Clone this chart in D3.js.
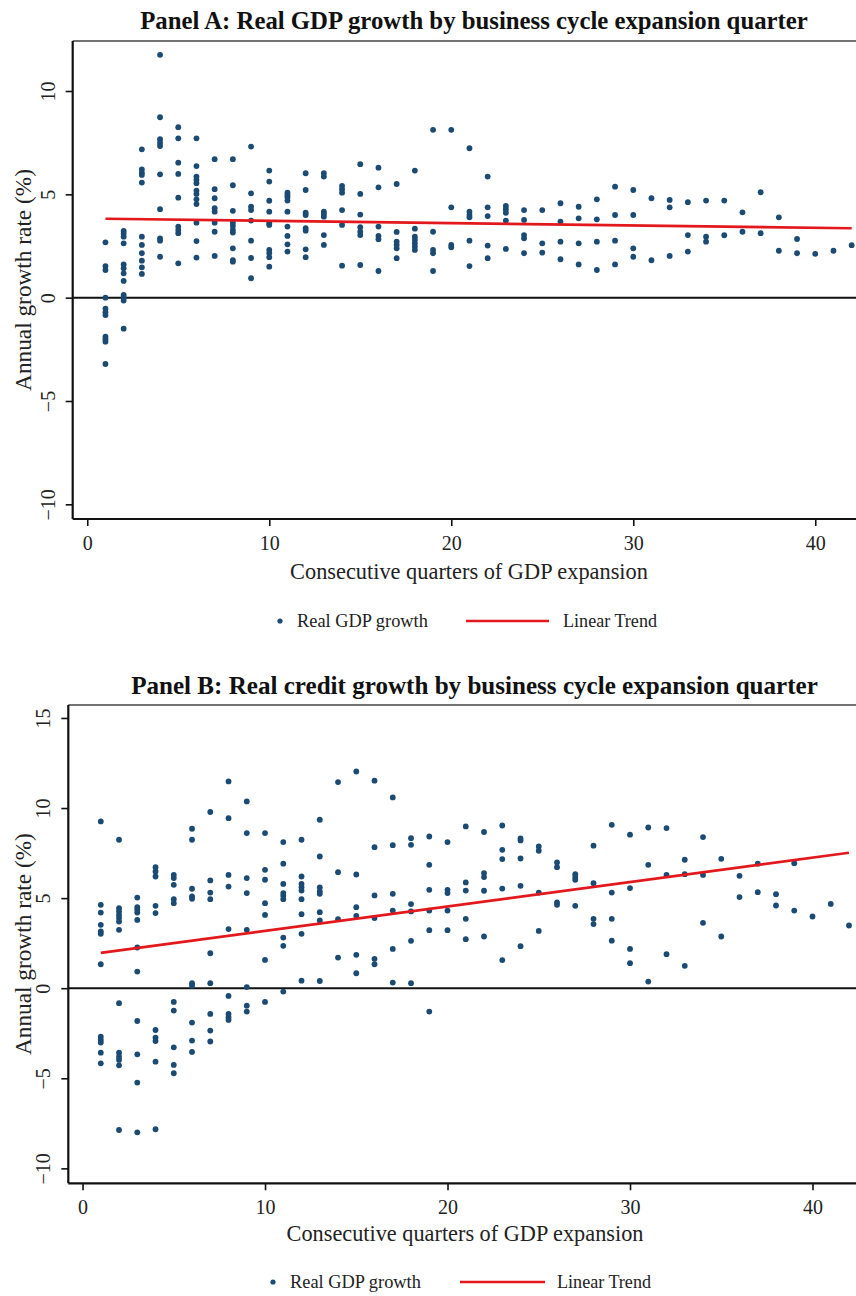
<!DOCTYPE html>
<html><head><meta charset="utf-8">
<script src="https://cdn.jsdelivr.net/npm/d3@7/dist/d3.min.js"></script>
<style>body{margin:0;background:#fff;} svg{display:block;}</style>
</head><body>
<svg id="chart" width="856" height="1296"></svg>
<script>
// ---------------- DATA ----------------
const xTicks = [0, 10, 20, 30, 40];
const yTicksA = [-10, -5, 0, 5, 10];
const yTicksB = [-10, -5, 0, 5, 10, 15];

// Panel A: real GDP growth, one list of values per expansion quarter (1..42)
const gdpGrowth = [
  [2.68, 1.53, 1.34, 0, -0.53, -0.7, -0.84, -1.89, -2.01, -2.13, -3.21],
  [3.23, 3.1, 2.95, 2.63, 1.61, 1.42, 1.18, 0.81, 0.13, 0, -0.14, -1.5],
  [7.18, 6.21, 6.05, 5.94, 5.57, 2.95, 2.55, 2.15, 1.79, 1.47, 1.15],
  [11.75, 8.73, 7.67, 7.5, 7.34, 5.97, 4.28, 2.87, 2.76, 1.98],
  [8.25, 7.71, 6.53, 5.99, 4.84, 3.44, 3.28, 3.12, 1.66],
  [7.71, 6.37, 5.86, 5.7, 5.54, 5.18, 5.02, 4.76, 4.53, 3.63, 2.74, 1.94],
  [6.7, 5.25, 4.81, 4.33, 4.16, 3.63, 3.19, 2.02],
  [6.7, 5.44, 4.2, 3.63, 3.47, 3.28, 3.15, 2.39, 1.82, 1.74],
  [7.31, 5.05, 4.4, 4.24, 3.73, 2.76, 1.92, 0.94],
  [6.15, 5.62, 4.69, 4.16, 3.6, 3.52, 2.31, 2.15, 1.96, 1.5],
  [5.08, 4.97, 4.86, 4.7, 4.16, 3.44, 2.99, 2.58, 2.23],
  [6.02, 5.21, 4.11, 4.0, 3.36, 3.24, 2.34, 1.96],
  [6.02, 5.86, 4.16, 4.05, 3.92, 3.03, 2.55],
  [5.41, 5.25, 5.08, 4.24, 3.52, 1.55],
  [6.46, 5.02, 4.02, 3.41, 3.19, 3.03, 1.58],
  [6.29, 5.34, 3.44, 2.99, 2.83, 1.29],
  [5.5, 3.18, 2.71, 2.55, 2.39, 1.91],
  [6.15, 3.34, 2.95, 2.79, 2.63, 2.47, 2.31],
  [8.12, 3.19, 2.31, 2.15, 1.29],
  [8.12, 4.37, 2.55, 2.44],
  [7.23, 4.16, 4.0, 3.89, 2.76, 1.53],
  [5.86, 4.37, 3.95, 2.52, 1.91],
  [4.44, 4.28, 4.11, 3.73, 2.36],
  [4.24, 3.76, 3.03, 2.87, 2.15],
  [4.24, 2.63, 2.18],
  [4.57, 3.68, 2.71, 1.86],
  [4.4, 3.84, 2.63, 1.61],
  [4.76, 3.79, 2.71, 1.34],
  [5.37, 4.0, 2.76, 1.61],
  [5.21, 4.0, 2.39, 1.98],
  [4.81, 1.81],
  [4.73, 4.37, 2.02],
  [4.62, 3.03, 2.23],
  [4.7, 2.95, 2.71],
  [4.7, 3.02],
  [4.13, 3.19],
  [5.1, 3.12],
  [3.89, 2.27],
  [2.84, 2.15],
  [2.12],
  [2.27],
  [2.54]
];

// Panel B: real credit growth, one list of values per expansion quarter (1..42)
const creditGrowth = [
  [9.26, 4.63, 4.2, 3.52, 3.15, 3.02, 1.33, -2.69, -2.87, -3.02, -3.58, -4.17],
  [8.24, 4.44, 4.26, 4.07, 3.89, 3.7, 3.24, -0.83, -3.58, -3.8, -3.98, -4.28, -7.87],
  [5.03, 4.5, 4.35, 4.2, 3.79, 2.26, 0.92, -1.82, -3.67, -5.24, -8.0],
  [6.72, 6.48, 6.2, 4.57, 4.17, -2.32, -2.74, -2.93, -4.08, -7.83],
  [6.29, 6.11, 5.74, 4.94, 4.72, -0.76, -1.24, -3.28, -4.26, -4.72],
  [8.85, 8.24, 5.52, 5.09, 4.96, 0.28, 0.13, -1.91, -2.91, -3.54],
  [9.78, 5.98, 5.31, 4.94, 1.94, 0.28, -1.43, -2.35, -2.96],
  [11.48, 9.44, 6.29, 5.64, 3.28, -0.43, -1.43, -1.61, -1.76],
  [10.37, 8.61, 6.11, 5.28, 3.24, 0.06, -0.97, -1.3],
  [8.61, 6.57, 6.02, 4.72, 4.07, 1.57, -0.76],
  [8.11, 6.91, 5.79, 5.28, 5.13, 4.94, 2.81, 2.35, -0.19],
  [8.24, 6.2, 5.79, 5.61, 5.42, 4.94, 4.11, 3.02, 0.42],
  [9.35, 7.31, 5.59, 5.37, 5.24, 4.22, 3.76, 0.4],
  [11.44, 6.44, 3.83, 1.7],
  [12.03, 6.31, 4.5, 4.02, 1.85, 0.83],
  [11.52, 7.83, 5.15, 3.89, 1.63, 1.33],
  [10.59, 7.94, 5.24, 4.31, 2.18, 0.31],
  [8.33, 7.96, 4.67, 4.26, 2.63, 0.28],
  [8.42, 6.85, 5.46, 4.31, 3.22, -1.3],
  [8.11, 5.46, 5.28, 4.31, 3.22],
  [8.98, 5.87, 5.42, 3.85, 2.72],
  [8.67, 6.39, 6.17, 5.41, 2.87],
  [9.03, 7.68, 7.17, 5.53, 1.56],
  [8.31, 8.2, 7.2, 5.68, 2.33],
  [7.87, 7.63, 5.31, 3.18],
  [6.98, 6.72, 4.76, 4.63],
  [6.33, 6.17, 6.02, 4.57],
  [7.91, 5.83, 3.85, 3.56],
  [9.07, 5.31, 3.85, 2.64],
  [8.52, 5.56, 2.18, 1.39],
  [8.92, 6.85, 0.37],
  [8.89, 6.29, 1.89],
  [7.13, 6.33, 1.24],
  [8.39, 6.29, 3.63],
  [7.18, 2.87],
  [6.24, 5.06],
  [6.91, 5.33],
  [5.22, 4.59],
  [6.94, 4.31],
  [3.98],
  [4.68],
  [3.48]
];

// Linear trend end points [quarter, value]
const gdpTrend = [[1, 3.82], [42, 3.36]];
const creditTrend = [[1, 1.96], [42, 7.52]];

const panelTitles = [
  "Panel A: Real GDP growth by business cycle expansion quarter",
  "Panel B: Real credit growth by business cycle expansion quarter"
];
const xLabel = "Consecutive quarters of GDP expansion";
const yLabel = "Annual growth rate (%)";
const legendLabels = ["Real GDP growth", "Linear Trend"];

// ---------------- LAYOUT ----------------
const FONT = "'Liberation Serif', 'DejaVu Serif', serif";
const DOT = "#1b4a73";
const RED = "#e3181d";

const panels = [
  { title: panelTitles[0], series: gdpGrowth, trend: gdpTrend, yTicks: yTicksA,
    xDom: [-0.8, 42.2], xRange: [72.7, 855.3], yDom: [-10.71, 12.42], yRange: [519, 41],
    titleY: 29, titleCx: 474, titleW: 668, xLabY: 579, xLabCx: 469, xLabW: 358,
    legY: 621, legDot: 280, legText1: 297, legText1W: 131, legLine: [466, 549], legText2: 563, legText2W: 94 },
  { title: panelTitles[1], series: creditGrowth, trend: creditTrend, yTicks: yTicksB,
    xDom: [-0.78, 42.4], xRange: [68.3, 856.3], yDom: [-10.83, 15.72], yRange: [1183.3, 705],
    titleY: 694, titleCx: 474.5, titleW: 687, xLabY: 1241, xLabCx: 465, xLabW: 357,
    legY: 1282, legDot: 273, legText1: 290, legText1W: 131, legLine: [460, 545], legText2: 557, legText2W: 94 }
];

const svg = d3.select("#chart");

function fitWidth(sel, target) {
  const w = sel.node().getComputedTextLength();
  const fs = parseFloat(sel.attr("font-size"));
  if (w > 0) sel.attr("font-size", (fs * target / w).toFixed(2));
}

panels.forEach(p => {
  const g = svg.append("g");
  const x = d3.scaleLinear().domain(p.xDom).range(p.xRange);
  const y = d3.scaleLinear().domain(p.yDom).range(p.yRange);
  const [x0, x1] = p.xRange;
  const [yb, yt] = p.yRange;

  // title
  const t = g.append("text").attr("x", p.titleCx).attr("y", p.titleY)
    .attr("text-anchor", "middle").attr("font-family", FONT).attr("font-weight", "bold")
    .attr("font-size", 20).attr("fill", "#111").text(p.title);
  fitWidth(t, p.titleW);

  // top frame line
  g.append("line").attr("x1", x0).attr("x2", 856).attr("y1", yt).attr("y2", yt)
    .attr("stroke", "#444").attr("stroke-width", 1.4);

  // zero line
  g.append("line").attr("x1", x0).attr("x2", 856).attr("y1", y(0)).attr("y2", y(0))
    .attr("stroke", "#111").attr("stroke-width", 2);

  // points
  const pts = [];
  p.series.forEach((vals, i) => vals.forEach(v => pts.push([i + 1, v])));
  g.append("g").selectAll("circle").data(pts).join("circle")
    .attr("cx", d => x(d[0])).attr("cy", d => y(d[1])).attr("r", 2.9)
    .attr("fill", DOT);

  // trend line
  g.append("path").datum(p.trend)
    .attr("d", d3.line().x(d => x(d[0])).y(d => y(d[1])))
    .attr("stroke", RED).attr("stroke-width", 2.6).attr("fill", "none");

  // x axis
  const xAxis = g.append("g").attr("transform", `translate(0,${yb})`)
    .call(d3.axisBottom(x).tickValues(xTicks).tickSize(7).tickPadding(6).tickFormat(d3.format("d")));
  xAxis.select(".domain").attr("d", `M${x0},0H856`).attr("stroke", "#111").attr("stroke-width", 2.2);
  xAxis.selectAll(".tick line").attr("stroke", "#111").attr("stroke-width", 1.6);
  xAxis.selectAll(".tick text").attr("font-family", FONT).attr("font-size", 20)
    .attr("fill", "#222").attr("dy", "0.9em");

  // y axis
  const yAxis = g.append("g").attr("transform", `translate(${x0},0)`)
    .call(d3.axisLeft(y).tickValues(p.yTicks).tickSize(7).tickFormat(d3.format("d")));
  yAxis.select(".domain").attr("d", `M0,${yt}V${yb}`).attr("stroke", "#111").attr("stroke-width", 2.2);
  yAxis.selectAll(".tick line").attr("stroke", "#111").attr("stroke-width", 1.6);
  yAxis.selectAll(".tick text").attr("font-family", FONT).attr("font-size", 20)
    .attr("fill", "#222").attr("x", 0).attr("dy", 0).attr("text-anchor", "middle")
    .attr("transform", "translate(-18,0) rotate(-90)");

  // x label
  const xl = g.append("text").attr("x", p.xLabCx).attr("y", p.xLabY)
    .attr("text-anchor", "middle").attr("font-family", FONT).attr("font-size", 20)
    .attr("fill", "#222").text(xLabel);
  fitWidth(xl, p.xLabW);

  // y label
  const yl = g.append("text")
    .attr("transform", `translate(31,${(yt + yb) / 2}) rotate(-90)`)
    .attr("text-anchor", "middle").attr("font-family", FONT).attr("font-size", 20)
    .attr("fill", "#222").text(yLabel);
  fitWidth(yl, 222);

  // legend
  g.append("circle").attr("cx", p.legDot).attr("cy", p.legY).attr("r", 2.6).attr("fill", DOT);
  const l1 = g.append("text").attr("x", p.legText1).attr("y", p.legY + 6)
    .attr("font-family", FONT).attr("font-size", 16).attr("fill", "#222").text(legendLabels[0]);
  fitWidth(l1, p.legText1W);
  g.append("line").attr("x1", p.legLine[0]).attr("x2", p.legLine[1])
    .attr("y1", p.legY).attr("y2", p.legY).attr("stroke", RED).attr("stroke-width", 2.6);
  const l2 = g.append("text").attr("x", p.legText2).attr("y", p.legY + 6)
    .attr("font-family", FONT).attr("font-size", 16).attr("fill", "#222").text(legendLabels[1]);
  fitWidth(l2, p.legText2W);
});
</script>
</body></html>
